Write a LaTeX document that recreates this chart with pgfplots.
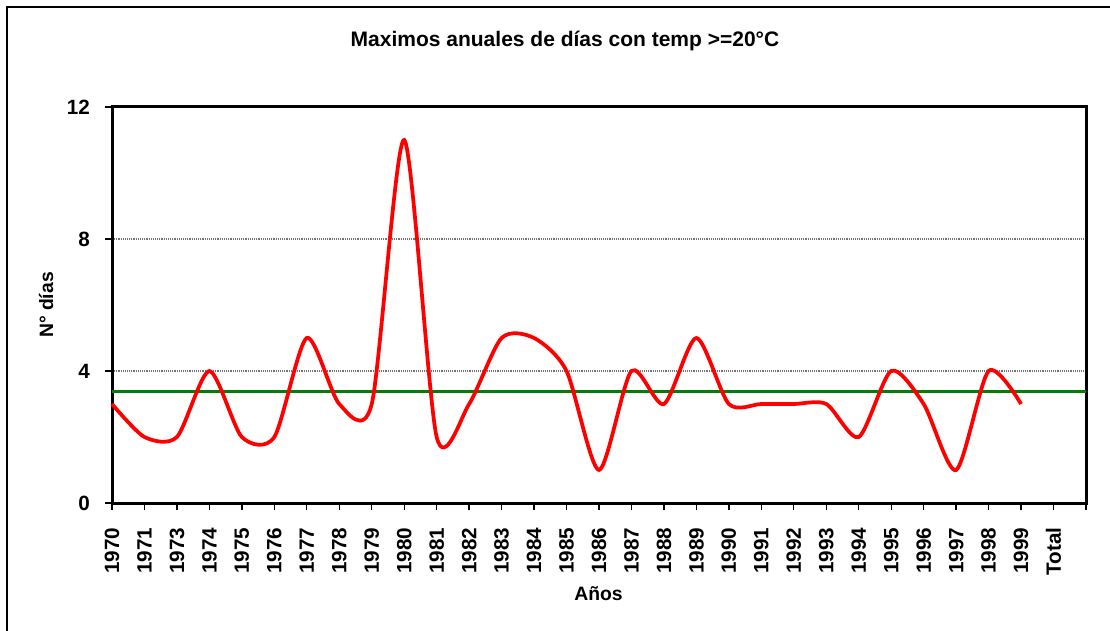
\documentclass[border=0pt]{standalone}
\usepackage{fontspec}
\setmainfont{Liberation Sans}
\usepackage{pgfplots}
\pgfplotsset{compat=1.18}
\definecolor{xlred}{RGB}{255,0,0}
\definecolor{xlgreen}{RGB}{0,128,0}
\begin{document}
\begin{tikzpicture}
\useasboundingbox (0,0) rectangle (832.5pt,-473.25pt);
\draw[line width=1.5pt] (5.25pt,-480pt) -- (5.25pt,-5.25pt) -- (840pt,-5.25pt);
\begin{axis}[
  at={(84pt,-80.25pt)}, anchor=north west,
  scale only axis, width=730.5pt, height=297pt,
  xmin=0, xmax=30, ymin=0, ymax=12,
  xtick={0,...,30},
  xticklabels={1970,1971,1973,1974,1975,1976,1977,1978,1979,1980,1981,1982,1983,1984,1985,1986,1987,1988,1989,1990,1991,1992,1993,1994,1995,1996,1997,1998,1999,Total,{}},
  ytick={0,4,8,12},
  xtick pos=bottom, ytick pos=left,
  tick align=outside, major tick length=5pt,
  tick style={black, line width=1pt},
  axis line style={line width=2.25pt},
  ymajorgrids, grid style={black!55, densely dotted, line width=0.8pt},
  /pgf/number format/assume math mode=true,
  xticklabel shift=10pt, yticklabel shift=8pt,
  xticklabel style={rotate=90, anchor=east, font=\bfseries\fontsize{15.5}{17}\selectfont},
  yticklabel style={font=\bfseries\fontsize{15.5}{17}\selectfont},
  clip=false,
]
\addplot[xlgreen, line width=2.4pt] coordinates {(0,3.3793) (30,3.3793)};
\addplot[xlred, line width=2.8pt, smooth, tension=0.45] coordinates {
(0,3) (1,2) (2,2) (3,4) (4,2) (5,2) (6,5) (7,3) (8,3) (9,11)
(10,2) (11,3) (12,5) (13,5) (14,4) (15,1) (16,4) (17,3) (18,5) (19,3)
(20,3) (21,3) (22,3) (23,2) (24,4) (25,3) (26,1) (27,4) (28,3)};
\end{axis}
\node[anchor=base, font=\bfseries\fontsize{15.75}{18}\selectfont] at (423.75pt,-34.9pt) {Maximos anuales de días con temp >=20°C};
\node[rotate=90, anchor=base, font=\bfseries\fontsize{14.5}{16}\selectfont] at (39.75pt,-228.75pt) {N° días};
\node[anchor=base, font=\bfseries\fontsize{14.5}{16}\selectfont] at (448.9pt,-450.5pt) {Años};
\end{tikzpicture}
\end{document}
